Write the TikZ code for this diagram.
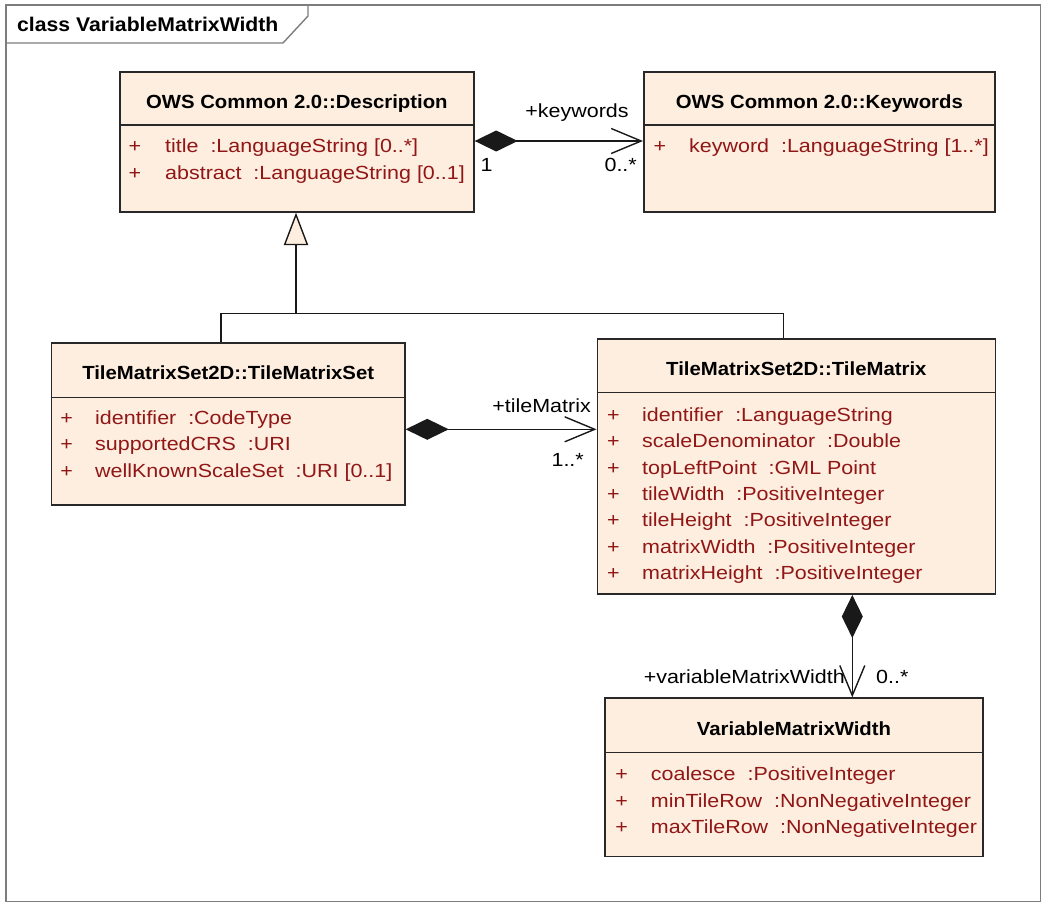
\documentclass[tikz,border=0pt]{standalone}
\usepackage{fontspec}
\usetikzlibrary{arrows.meta,calc}
\newfontfamily\umlreg[FakeStretch=1.13]{Liberation Sans}
\newfontfamily\umlbf[FakeStretch=1.07]{Liberation Sans}

\definecolor{boxfill}{RGB}{253,238,223}
\definecolor{boxline}{RGB}{40,40,40}
\definecolor{attrred}{RGB}{145,22,22}
\definecolor{linecol}{RGB}{25,25,25}
\definecolor{framegray}{RGB}{125,125,125}

\tikzset{
  classbox/.style={draw=boxline, fill=boxfill, line width=1.7pt, inner sep=0pt, anchor=north west},
  sepline/.style={draw=boxline, line width=1.4pt},
  hdr/.style={font=\umlbf\bfseries\fontsize{19}{22}\selectfont, text=black, anchor=base, inner sep=0pt},
  attr/.style={font=\umlreg\fontsize{19}{22}\selectfont, text=attrred, anchor=base west, inner sep=0pt},
  vis/.style={font=\umlreg\fontsize{19}{22}\selectfont, text=attrred, anchor=base, inner sep=0pt},
  lbl/.style={font=\umlreg\fontsize{19}{22}\selectfont, text=black, inner sep=0pt},
  comp/.style={draw=linecol, line width=1.4pt,
    {Diamond[length=43pt,width=21pt]}-{Straight Barb[length=30pt,width=25pt]}},
  gen/.style={draw=linecol, line width=1.4pt},
  frameline/.style={draw=framegray, line width=1.4pt},
}

\begin{document}
\begin{tikzpicture}[x=1pt,y=-1pt]
\useasboundingbox (0,0) rectangle (1048,911);

% diagram frame and title tab
\draw[frameline] (6,5) rectangle (1040.5,901.5);
\draw[frameline] (6,43) -- (283,43) -- (308,16) -- (308,5);
\node[font=\umlbf\bfseries\fontsize{19.8}{22}\selectfont, anchor=base west, inner sep=0pt]
  (title) at (17,31.5) {class VariableMatrixWidth};

% ---- OWS Common 2.0::Description
\node[classbox, minimum width=354pt, minimum height=140pt] (desc) at (119,71) {};
\draw[sepline] ($(desc.north west)+(0,54)$) -- ($(desc.north east)+(0,54)$);
\node[hdr] (desch) at ($(desc.north)+(0,37.5)$) {OWS Common 2.0::Description};
\node[vis] (descp1) at (135,152.5) {+};
\node[attr] (desca1) at (165,152.5) {title\ \ :LanguageString [0..*]};
\node[vis] (descp2) at (135,179.5) {+};
\node[attr] (desca2) at (165,179.5) {abstract\ \ :LanguageString [0..1]};

% ---- OWS Common 2.0::Keywords
\node[classbox, minimum width=351pt, minimum height=140pt] (kw) at (643,71) {};
\draw[sepline] ($(kw.north west)+(0,54)$) -- ($(kw.north east)+(0,54)$);
\node[hdr] (kwh) at ($(kw.north)+(0,37.5)$) {OWS Common 2.0::Keywords};
\node[vis] (kwp1) at (660,152.5) {+};
\node[attr] (kwa1) at (689,152.5) {keyword\ \ :LanguageString [1..*]};

% ---- TileMatrixSet2D::TileMatrixSet
\node[classbox, minimum width=353.3pt, minimum height=162pt] (tms) at (50.7,342.3) {};
\draw[sepline] ($(tms.north west)+(0,55)$) -- ($(tms.north east)+(0,55)$);
\node[hdr] (tmsh) at ($(tms.north)+(0,37.5)$) {TileMatrixSet2D::TileMatrixSet};
\node[vis] (tmsp1) at (66.7,424.8) {+};
\node[attr] (tmsa1) at (95,424.8) {identifier\ \ :CodeType};
\node[vis] (tmsp2) at (66.7,450.8) {+};
\node[attr] (tmsa2) at (95,450.8) {supportedCRS\ \ :URI};
\node[vis] (tmsp3) at (66.7,477.2) {+};
\node[attr] (tmsa3) at (95,477.2) {wellKnownScaleSet\ \ :URI [0..1]};

% ---- TileMatrixSet2D::TileMatrix
\node[classbox, minimum width=398pt, minimum height=255pt] (tm) at (596.5,338.3) {};
\draw[sepline] ($(tm.north west)+(0,54.2)$) -- ($(tm.north east)+(0,54.2)$);
\node[hdr] (tmh) at ($(tm.north)+(0,37.5)$) {TileMatrixSet2D::TileMatrix};
\foreach \i/\txt in {0/{identifier\ \ :LanguageString},
                     1/{scaleDenominator\ \ :Double},
                     2/{topLeftPoint\ \ :GML Point},
                     3/{tileWidth\ \ :PositiveInteger},
                     4/{tileHeight\ \ :PositiveInteger},
                     5/{matrixWidth\ \ :PositiveInteger},
                     6/{matrixHeight\ \ :PositiveInteger}}{
  \node[vis] (tmp\i) at (613.3,421.5+26.3*\i) {+};
  \node[attr] (tma\i) at (642,421.5+26.3*\i) {\txt};
}

% ---- VariableMatrixWidth
\node[classbox, minimum width=378.3pt, minimum height=158.4pt] (vmw) at (604,697.3) {};
\draw[sepline] ($(vmw.north west)+(0,55.4)$) -- ($(vmw.north east)+(0,55.4)$);
\node[hdr] (vmwh) at ($(vmw.north)+(0,38.5)$) {VariableMatrixWidth};
\node[vis] (vmwp1) at (621.7,780.8) {+};
\node[attr] (vmwa1) at (650.7,780.8) {coalesce\ \ :PositiveInteger};
\node[vis] (vmwp2) at (621.7,807.2) {+};
\node[attr] (vmwa2) at (650.7,807.2) {minTileRow\ \ :NonNegativeInteger};
\node[vis] (vmwp3) at (621.7,833.2) {+};
\node[attr] (vmwa3) at (650.7,833.2) {maxTileRow\ \ :NonNegativeInteger};

% ---- generalization: TileMatrixSet and TileMatrix specialise Description
\coordinate (gj) at (296,313.3);
\coordinate (gl) at (221,313.3);
\coordinate (gr) at (783.3,313.3);
\draw[gen] (tms.north -| gl) -- (gl) -- (gr) -- (tm.north -| gr);
\draw[gen, -{Triangle[open, fill=boxfill, length=32.5pt, width=24.3pt]}] (gj) -- (desc.south -| gj);

% ---- compositions
\coordinate (ykw) at (0,141);
\draw[comp] (desc.east |- ykw) -- (kw.west |- ykw);
\node[lbl, anchor=base] (kwrole) at (577,117.5) {+keywords};
\node[lbl, anchor=base] (kwm1) at (486.7,171.5) {1};
\node[lbl, anchor=base east] (kwm2) at (637,171) {0..*};

\coordinate (ytm) at (0,429.3);
\draw[comp] (tms.east |- ytm) -- (tm.west |- ytm);
\node[lbl, anchor=base east] (tmrole) at (591,412.7) {+tileMatrix};
\node[lbl, anchor=base east] (tmm) at (584,466.7) {1..*};

\coordinate (xv) at (852.3,0);
\draw[comp] (tm.south -| xv) -- (vmw.north -| xv);
\node[lbl, anchor=base east] (vrole) at (845,683.3) {+variableMatrixWidth};
\node[lbl, anchor=base west] (vm) at (876,683.3) {0..*};
\end{tikzpicture}
\end{document}
